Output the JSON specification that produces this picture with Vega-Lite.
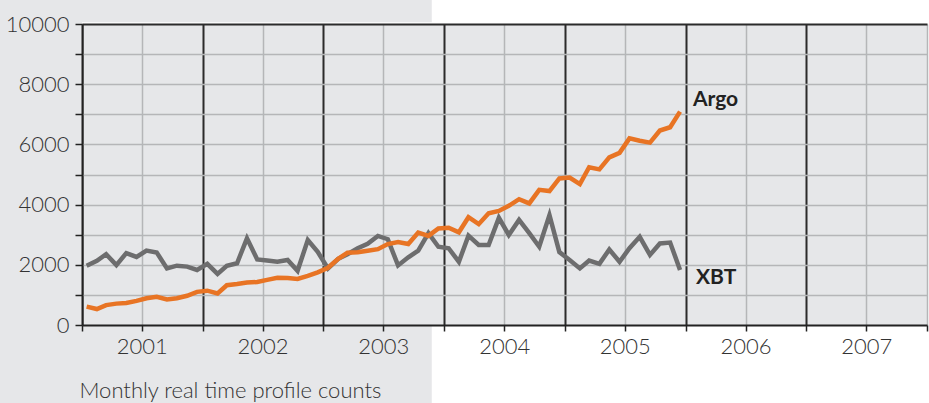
{
  "$schema": "https://vega.github.io/schema/vega-lite/v6.json",
  "width": 845,
  "height": 301,
  "autosize": {"type": "none"},
  "padding": {"left": 82, "top": 24, "right": 2, "bottom": 78},
  "background": "#ffffff",
  "config": {"view": {"fill": "#e6e7e9", "stroke": null}, "font": "Lato"},
  "datasets": {
    "bg": [
      {"x1": "2000-01-01", "x2": "2003-11-25", "y1": 10060, "y2": 14000},
      {"x1": "2000-01-01", "x2": "2001-01-01", "y1": -5000, "y2": 14000},
      {"x1": "2000-01-01", "x2": "2003-11-25", "y1": -5000, "y2": 0}
    ],
    "counts": [
      {"date": "2001-01-15", "Argo": 610, "XBT": 1970},
      {"date": "2001-02-15", "Argo": 530, "XBT": 2130},
      {"date": "2001-03-15", "Argo": 660, "XBT": 2350},
      {"date": "2001-04-15", "Argo": 710, "XBT": 1990},
      {"date": "2001-05-15", "Argo": 730, "XBT": 2390},
      {"date": "2001-06-15", "Argo": 800, "XBT": 2260},
      {"date": "2001-07-15", "Argo": 890, "XBT": 2470},
      {"date": "2001-08-15", "Argo": 940, "XBT": 2410},
      {"date": "2001-09-15", "Argo": 850, "XBT": 1880},
      {"date": "2001-10-15", "Argo": 890, "XBT": 1970},
      {"date": "2001-11-15", "Argo": 970, "XBT": 1940},
      {"date": "2001-12-15", "Argo": 1100, "XBT": 1830},
      {"date": "2002-01-15", "Argo": 1140, "XBT": 2030},
      {"date": "2002-02-15", "Argo": 1050, "XBT": 1700},
      {"date": "2002-03-15", "Argo": 1320, "XBT": 1970},
      {"date": "2002-04-15", "Argo": 1360, "XBT": 2050},
      {"date": "2002-05-15", "Argo": 1410, "XBT": 2880},
      {"date": "2002-06-15", "Argo": 1430, "XBT": 2180},
      {"date": "2002-07-15", "Argo": 1500, "XBT": 2140},
      {"date": "2002-08-15", "Argo": 1570, "XBT": 2100},
      {"date": "2002-09-15", "Argo": 1560, "XBT": 2160},
      {"date": "2002-10-15", "Argo": 1530, "XBT": 1800},
      {"date": "2002-11-15", "Argo": 1630, "XBT": 2820},
      {"date": "2002-12-15", "Argo": 1750, "XBT": 2430},
      {"date": "2003-01-15", "Argo": 1900, "XBT": 1880},
      {"date": "2003-02-15", "Argo": 2200, "XBT": 2200},
      {"date": "2003-03-15", "Argo": 2400, "XBT": 2350},
      {"date": "2003-04-15", "Argo": 2420, "XBT": 2550},
      {"date": "2003-05-15", "Argo": 2470, "XBT": 2700},
      {"date": "2003-06-15", "Argo": 2520, "XBT": 2960},
      {"date": "2003-07-15", "Argo": 2690, "XBT": 2850},
      {"date": "2003-08-15", "Argo": 2760, "XBT": 1980},
      {"date": "2003-09-15", "Argo": 2690, "XBT": 2250},
      {"date": "2003-10-15", "Argo": 3070, "XBT": 2470},
      {"date": "2003-11-15", "Argo": 2960, "XBT": 3050},
      {"date": "2003-12-15", "Argo": 3210, "XBT": 2600},
      {"date": "2004-01-15", "Argo": 3230, "XBT": 2550},
      {"date": "2004-02-15", "Argo": 3080, "XBT": 2100},
      {"date": "2004-03-15", "Argo": 3580, "XBT": 2970},
      {"date": "2004-04-15", "Argo": 3350, "XBT": 2660},
      {"date": "2004-05-15", "Argo": 3710, "XBT": 2660},
      {"date": "2004-06-15", "Argo": 3790, "XBT": 3560},
      {"date": "2004-07-15", "Argo": 3960, "XBT": 2990},
      {"date": "2004-08-15", "Argo": 4180, "XBT": 3490},
      {"date": "2004-09-15", "Argo": 4040, "XBT": 3050},
      {"date": "2004-10-15", "Argo": 4490, "XBT": 2600},
      {"date": "2004-11-15", "Argo": 4450, "XBT": 3650},
      {"date": "2004-12-15", "Argo": 4870, "XBT": 2420},
      {"date": "2005-01-15", "Argo": 4900, "XBT": 2160},
      {"date": "2005-02-15", "Argo": 4680, "XBT": 1880},
      {"date": "2005-03-15", "Argo": 5240, "XBT": 2140},
      {"date": "2005-04-15", "Argo": 5170, "XBT": 2030},
      {"date": "2005-05-15", "Argo": 5570, "XBT": 2510},
      {"date": "2005-06-15", "Argo": 5720, "XBT": 2100},
      {"date": "2005-07-15", "Argo": 6200, "XBT": 2550},
      {"date": "2005-08-15", "Argo": 6120, "XBT": 2930},
      {"date": "2005-09-15", "Argo": 6060, "XBT": 2330},
      {"date": "2005-10-15", "Argo": 6460, "XBT": 2710},
      {"date": "2005-11-15", "Argo": 6570, "XBT": 2740},
      {"date": "2005-12-15", "Argo": 7090, "XBT": 1830}
    ],
    "labels": [
      {"series": "Argo", "date": "2006-01-23", "value": 7290},
      {"series": "XBT", "date": "2006-02-01", "value": 1350}
    ]
  },
  "resolve": {"axis": {"x": "independent", "y": "independent"}},
  "layer": [
    {
      "data": {"name": "bg"},
      "mark": {"type": "rect", "clip": false, "fill": "#e6e7e9", "strokeWidth": 0},
      "encoding": {
        "x": {
          "field": "x1", "type": "temporal",
          "scale": {"type": "utc", "domain": [{"year": 2001, "month": 1, "date": 1, "utc": true}, {"year": 2008, "month": 1, "date": 1, "utc": true}], "nice": false},
          "axis": {
            "orient": "bottom", "grid": true, "labels": false, "ticks": false, "domain": false, "title": null,
            "tickCount": {"interval": "month", "step": 6},
            "gridColor": {"condition": {"test": "utcmonth(datum.value) == 0 && utcyear(datum.value) < 2008", "value": "#2b2b2b"}, "value": "#b5b6b8"},
            "gridWidth": {"condition": {"test": "utcmonth(datum.value) == 0 && utcyear(datum.value) < 2008", "value": 2}, "value": 1.5},
            "gridOpacity": 1,
            "zindex": 0, "maxExtent": 0, "minExtent": 0
          }
        },
        "x2": {"field": "x2"},
        "y": {
          "field": "y1", "type": "quantitative",
          "scale": {"domain": [0, 10000], "nice": false, "zero": false},
          "axis": {
            "orient": "left", "grid": true, "labels": false, "ticks": false, "domain": false, "title": null,
            "values": [1000, 2000, 3000, 4000, 5000, 6000, 7000, 8000, 9000, 10000],
            "gridColor": {"condition": {"test": "datum.value == 10000", "value": "#2b2b2b"}, "value": "#b5b6b8"},
            "gridWidth": {"condition": {"test": "datum.value == 10000", "value": 2}, "value": 1.5},
            "gridOpacity": 1,
            "zindex": 0, "maxExtent": 0, "minExtent": 0
          }
        },
        "y2": {"field": "y2"}
      }
    },
    {
      "data": {"name": "counts"},
      "transform": [{"fold": ["XBT", "Argo"], "as": ["series", "value"]}],
      "mark": {"type": "line", "strokeWidth": 4.5, "strokeJoin": "miter", "strokeCap": "butt"},
      "encoding": {
        "x": {
          "field": "date", "type": "temporal",
          "scale": {"type": "utc", "domain": [{"year": 2001, "month": 1, "date": 1, "utc": true}, {"year": 2008, "month": 1, "date": 1, "utc": true}], "nice": false},
          "axis": {
            "orient": "bottom", "grid": false,
            "tickCount": {"interval": "month", "step": 6},
            "labelExpr": "utcmonth(datum.value) == 6 ? '' + utcyear(datum.value) : ''",
            "labelFont": "Lato", "labelFontSize": 22, "labelFontWeight": 300, "labelColor": "#333333",
            "labelPadding": 5, "labelFlush": false, "labelOverlap": false,
            "tickSize": 6, "tickColor": "#222222", "tickWidth": 1.5,
            "domainColor": "#222222", "domainWidth": 2,
            "title": "Monthly real time profile counts",
            "titleAnchor": "start", "titleAlign": "left", "titleFont": "Lato", "titleX": -3,
            "titleFontSize": 22, "titleFontWeight": 300, "titleColor": "#333333", "titlePadding": 23,
            "zindex": 1
          }
        },
        "y": {
          "field": "value", "type": "quantitative",
          "scale": {"domain": [0, 10000], "nice": false, "zero": false},
          "axis": {
            "orient": "left", "grid": false,
            "values": [0, 1000, 2000, 3000, 4000, 5000, 6000, 7000, 8000, 9000, 10000],
            "format": "d",
            "labelExpr": "datum.value % 2000 == 0 ? datum.label : ''",
            "labelFont": "Lato", "labelFontSize": 22, "labelFontWeight": 300, "labelColor": "#333333",
            "labelPadding": 6, "labelOverlap": false,
            "tickSize": 7, "tickColor": "#222222", "tickWidth": 1.5,
            "domainColor": "#222222", "domainWidth": 2,
            "title": null,
            "zindex": 1
          }
        },
        "color": {
          "field": "series", "type": "nominal",
          "scale": {"domain": ["Argo", "XBT"], "range": ["#e87424", "#6d6d6e"]},
          "legend": null
        }
      }
    },
    {
      "data": {"name": "labels"},
      "mark": {"type": "text", "align": "left", "baseline": "alphabetic", "font": "Lato", "fontSize": 21, "fontWeight": "bold", "color": "#222222"},
      "encoding": {
        "x": {"field": "date", "type": "temporal", "scale": {"type": "utc", "domain": [{"year": 2001, "month": 1, "date": 1, "utc": true}, {"year": 2008, "month": 1, "date": 1, "utc": true}], "nice": false}, "axis": null},
        "y": {"field": "value", "type": "quantitative", "scale": {"domain": [0, 10000], "nice": false, "zero": false}, "axis": null},
        "text": {"field": "series"}
      }
    }
  ]
}
